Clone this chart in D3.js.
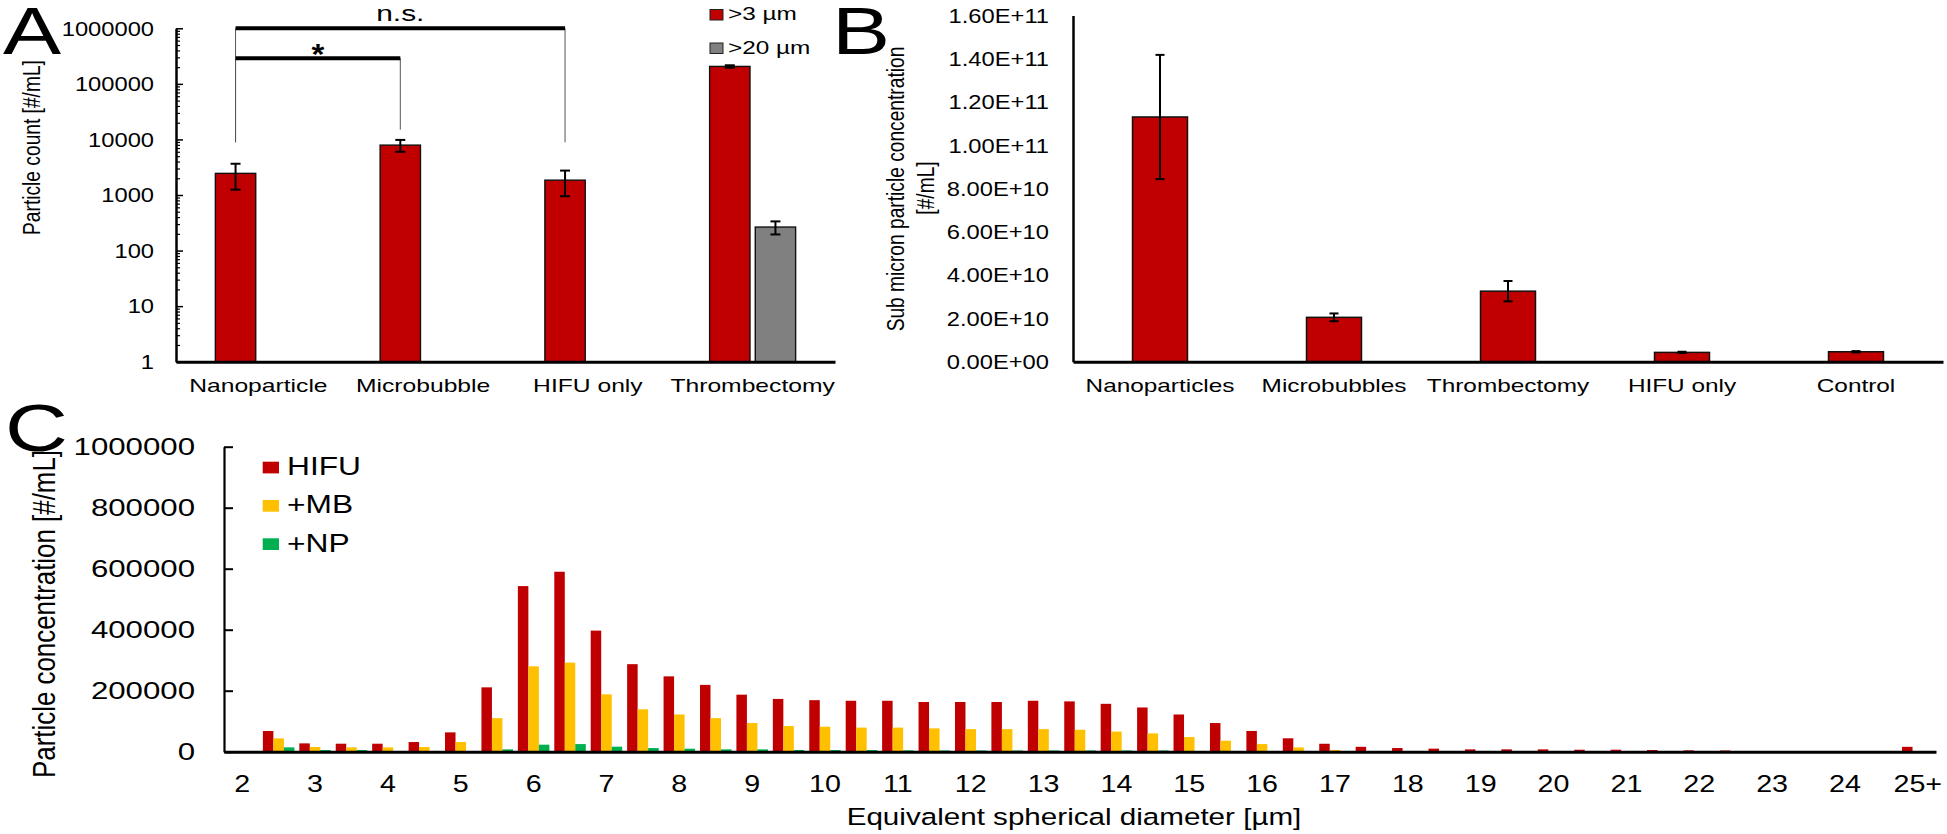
<!DOCTYPE html>
<html>
<head>
<meta charset="utf-8">
<script src="https://cdn.jsdelivr.net/npm/d3@7"></script>
<style>
  body { margin: 0; background: #fff; }
  svg { display: block; font-family: "Liberation Sans", Arial, sans-serif; }
</style>
</head>
<body>
<div id="chart"></div>
<script>
// ---- panel A data (log scale particle counts) ----
const aGroups = ["Nanoparticle", "Microbubble", "HIFU only", "Thrombectomy"];
const aOver3 = [2450, 7900, 1850, 206000];
const aOver3Err = [1200, 1900, 900, 10000];
const aOver20 = [null, null, null, 265];
const aOver20Err = [null, null, null, 70];
const aTicks = [1, 10, 100, 1000, 10000, 100000, 1000000];
const aBrackets = [
  { from: 0, to: 2, level: 1000000, ends: [8900, 8900], label: "n.s." },
  { from: 0, to: 1, level: 290000, ends: [8900, 15000], label: "*" }
];

// ---- panel B data ----
const bGroups = ["Nanoparticles", "Microbubbles", "Thrombectomy", "HIFU only", "Control"];
const bValues = [1.131e11, 2.05e10, 3.26e10, 4.3e9, 4.6e9];
const bErr = [2.87e10, 1.8e9, 4.7e9, 3e8, 3e8];
const bTicks = [0, 2e10, 4e10, 6e10, 8e10, 1e11, 1.2e11, 1.4e11, 1.6e11];

// ---- panel C data (size distribution, 0.5 um bins) ----
const cBins = ["2","2.5","3","3.5","4","4.5","5","5.5","6","6.5","7","7.5","8","8.5","9","9.5",
  "10","10.5","11","11.5","12","12.5","13","13.5","14","14.5","15","15.5","16","16.5","17","17.5",
  "18","18.5","19","19.5","20","20.5","21","21.5","22","22.5","23","23.5","24","24.5","25+"];
const cHIFU = [0, 67800, 27300, 26200, 26200, 31700, 63400, 211000, 543000, 590000, 397000, 287000,
  247000, 219000, 187000, 173000, 169000, 167000, 167000, 163000, 163000, 163000, 167000, 165000,
  157000, 145000, 122000, 94000, 68000, 44000, 26000, 16000, 12000, 10000, 7700, 7700, 7700, 6500,
  6500, 5500, 4400, 4000, 1500, 1500, 1500, 1500, 16000];
const cMB = [0, 43700, 15300, 14200, 14200, 15300, 31700, 110000, 280000, 292000, 188000, 139000,
  122000, 110000, 94000, 84000, 82000, 79000, 79000, 76500, 74000, 74000, 74000, 72000,
  66000, 60000, 48000, 36000, 25000, 14000, 5500, 1000, 0, 0, 0, 0, 0, 0,
  0, 0, 0, 0, 0, 0, 0, 0, 0];
const cNP = [0, 14200, 5500, 5500, 2000, 500, 500, 7700, 23000, 25000, 16400, 12000,
  9800, 7700, 7700, 5500, 5500, 5500, 4400, 4000, 4000, 4000, 4000, 4000,
  4000, 4000, 1500, 1000, 500, 0, 0, 0, 0, 0, 0, 0, 0, 0,
  0, 0, 0, 0, 0, 0, 0, 0, 0];
const cSeries = ["HIFU", "+MB", "+NP"];
const cTicks = [0, 200000, 400000, 600000, 800000, 1000000];

const red = "#C00000", grey = "#808080";
const cColors = ["#C00000", "#FFC000", "#00B050"];

const svg = d3.select("#chart").append("svg").attr("width", 1947).attr("height", 834);
svg.append("rect").attr("width", 1947).attr("height", 834).attr("fill", "#fff");

// text that is stretched sideways like the source figure
const stretchText = (g, str, x, y, size, sx, anchor, rot) =>
  g.append("text")
    .attr("transform", `translate(${x},${y}) scale(${sx},1)` + (rot ? ` rotate(${rot})` : ""))
    .attr("font-size", size)
    .attr("text-anchor", anchor || "start")
    .attr("fill", "#000")
    .text(str);

const styleTickText = (axisG, size, sx, x, y) => {
  axisG.attr("font-family", null).attr("font-size", size);
  axisG.selectAll(".tick text")
    .attr("fill", "#000")
    .attr("transform", `scale(${sx},1)`)
    .attr("x", x / sx);
  if (y !== undefined) axisG.selectAll(".tick text").attr("y", y).attr("dy", 0);
};

const errorBar = (g, x, yTop, yBot, cap) => {
  g.append("line").attr("x1", x).attr("x2", x).attr("y1", yTop).attr("y2", yBot);
  g.append("line").attr("x1", x - cap).attr("x2", x + cap).attr("y1", yTop).attr("y2", yTop);
  g.append("line").attr("x1", x - cap).attr("x2", x + cap).attr("y1", yBot).attr("y2", yBot);
};

// ================= Panel A =================
const xA = d3.scaleBand().domain(aGroups).range([176, 835]).paddingInner(0.478).paddingOuter(0.239);
const xAs = d3.scaleBand().domain(["over3", "over20"]).range([0, xA.bandwidth()]).paddingInner(0.116);
const yA = d3.scaleLog().domain([1, 1e6]).range([361.7, 28.3]);
const gA = svg.append("g");

aGroups.forEach((grp, i) => {
  [["over3", aOver3[i], aOver3Err[i], red], ["over20", aOver20[i], aOver20Err[i], grey]].forEach(([k, v, e, col]) => {
    if (v == null) return;
    const x = xA(grp) + xAs(k);
    gA.append("rect")
      .attr("x", x).attr("y", yA(v))
      .attr("width", xAs.bandwidth()).attr("height", yA(1) - yA(v))
      .attr("fill", col).attr("stroke", "#111").attr("stroke-width", 1.4);
    const eg = gA.append("g").attr("stroke", "#000").attr("stroke-width", 2);
    errorBar(eg, x + xAs.bandwidth() / 2, yA(v + e), yA(v - e), 5);
  });
});

const gAyMinor = gA.append("g").attr("transform", "translate(176,0)")
  .call(d3.axisLeft(yA).tickValues(yA.ticks().filter(t => !aTicks.includes(t))).tickFormat("").tickSize(-4));
gAyMinor.select(".domain").remove();
gAyMinor.selectAll(".tick line").attr("stroke", "#000").attr("stroke-width", 1.2);

const gAy = gA.append("g").attr("transform", "translate(176,0)")
  .call(d3.axisLeft(yA).tickValues(aTicks).tickFormat(d3.format("d")).tickSize(-7).tickSizeOuter(0));
gAy.select(".domain").attr("stroke", "#000").attr("stroke-width", 2.5);
gAy.selectAll(".tick line").attr("stroke", "#000").attr("stroke-width", 1.5);
styleTickText(gAy, 21, 1.13, -22);

const gAx = gA.append("g").attr("transform", "translate(0,361.7)")
  .call(d3.axisBottom(xA).tickSize(0).tickSizeOuter(0));
gAx.select(".domain").attr("stroke", "#000").attr("stroke-width", 3);
styleTickText(gAx, 18, 1.37, 0, 30);

stretchText(gA, "Particle count [#/mL]", 39.5, 147.5, 19.2, 1.2, "middle", -90);

// significance brackets
const barCenter = i => xA(aGroups[i]) + xAs("over3") + xAs.bandwidth() / 2;
aBrackets.forEach(b => {
  const x1 = barCenter(b.from), x2 = barCenter(b.to), yl = yA(b.level);
  gA.append("line").attr("x1", x1).attr("x2", x1).attr("y1", yl).attr("y2", yA(b.ends[0]))
    .attr("stroke", "#555").attr("stroke-width", 1);
  gA.append("line").attr("x1", x2).attr("x2", x2).attr("y1", yl).attr("y2", yA(b.ends[1]))
    .attr("stroke", "#555").attr("stroke-width", 1);
  gA.append("line").attr("x1", x1).attr("x2", x2).attr("y1", yl).attr("y2", yl)
    .attr("stroke", "#000").attr("stroke-width", 4);
  if (b.label === "*") {
    stretchText(gA, b.label, (x1 + x2) / 2, yl + 6, 30, 1.1, "middle").attr("font-weight", "bold");
  } else {
    stretchText(gA, b.label, (x1 + x2) / 2, yl - 7, 22.5, 1.33, "middle");
  }
});

// legend A
[[">3 µm", red, 9.5, 20], [">20 µm", grey, 43, 54]].forEach(([t, col, ys, yb]) => {
  gA.append("rect").attr("x", 710).attr("y", ys).attr("width", 13).attr("height", 10.5)
    .attr("fill", col).attr("stroke", "#222").attr("stroke-width", 1);
  stretchText(gA, t, 728, yb, 18.6, 1.31, "start");
});

// ================= Panel B =================
const xB = d3.scaleBand().domain(bGroups).range([1073, 1943]).paddingInner(0.684).paddingOuter(0.342);
const yB = d3.scaleLinear().domain([0, 1.6e11]).range([361.7, 15.5]);
const gB = svg.append("g");

const sciFormat = d => {
  const [m, e] = d.toExponential(2).split("e");
  return m + "E" + e[0] + e.slice(1).padStart(2, "0");
};

bGroups.forEach((grp, i) => {
  const x = xB(grp), v = bValues[i], e = bErr[i];
  gB.append("rect")
    .attr("x", x).attr("y", yB(v))
    .attr("width", xB.bandwidth()).attr("height", yB(0) - yB(v))
    .attr("fill", red).attr("stroke", "#111").attr("stroke-width", 1.5);
  const eg = gB.append("g").attr("stroke", "#000").attr("stroke-width", 2);
  errorBar(eg, x + xB.bandwidth() / 2, yB(v + e), yB(v - e), 4.5);
});

const gBy = gB.append("g").attr("transform", "translate(1073,0)")
  .call(d3.axisLeft(yB).tickValues(bTicks).tickFormat(sciFormat).tickSize(0).tickSizeOuter(0));
gBy.select(".domain").attr("stroke", "#000").attr("stroke-width", 2.5);
styleTickText(gBy, 21, 1.13, -24);

const gBx = gB.append("g").attr("transform", "translate(0,361.7)")
  .call(d3.axisBottom(xB).tickSize(0).tickSizeOuter(0));
gBx.select(".domain").attr("stroke", "#000").attr("stroke-width", 3);
styleTickText(gBx, 18.6, 1.31, 0, 30);

stretchText(gB, "Sub micron particle concentration", 903.5, 189, 19.2, 1.2, "middle", -90);
stretchText(gB, "[#/mL]", 934, 188, 19.2, 1.2, "middle", -90);

// ================= Panel C =================
const xC = d3.scaleBand().domain(cBins).range([224, 1936]).paddingInner(0.135).paddingOuter(0.0675);
const xCs = d3.scaleBand().domain(cSeries).range([0, xC.bandwidth()]);
const yC = d3.scaleLinear().domain([0, 1e6]).range([751.7, 446.7]);
const gC = svg.append("g");
const cData = [cHIFU, cMB, cNP];

cSeries.forEach((s, si) => {
  gC.append("g").attr("fill", cColors[si])
    .selectAll("rect")
    .data(cBins.map((b, i) => ({ bin: b, v: cData[si][i] })).filter(d => d.v > 0))
    .join("rect")
      .attr("x", d => xC(d.bin) + xCs(s))
      .attr("y", d => yC(d.v))
      .attr("width", xCs.bandwidth())
      .attr("height", d => yC(0) - yC(d.v));
});

const gCy = gC.append("g").attr("transform", "translate(224,0)")
  .call(d3.axisLeft(yC).tickValues(cTicks).tickFormat(d3.format("d")).tickSize(-9).tickSizeOuter(0));
gCy.select(".domain").attr("stroke", "#000").attr("stroke-width", 2.2);
gCy.selectAll(".tick line").attr("stroke", "#000").attr("stroke-width", 2);
styleTickText(gCy, 24, 1.3, -29);

const gCx = gC.append("g").attr("transform", "translate(0,751.7)")
  .call(d3.axisBottom(xC).tickValues(cBins.filter(b => !b.includes("."))).tickSize(0).tickSizeOuter(0));
gCx.select(".domain").attr("stroke", "#000").attr("stroke-width", 3);
styleTickText(gCx, 23.5, 1.22, 0, 40);

stretchText(gC, "Particle concentration [#/mL]", 54.5, 614, 25.9, 1.19, "middle", -90);
stretchText(gC, "Equivalent spherical diameter [µm]", 1074, 825, 23.5, 1.26, "middle");

// legend C
cSeries.forEach((s, si) => {
  gC.append("rect").attr("x", 262.7).attr("y", 461.7 + si * 38.3)
    .attr("width", 16.3).attr("height", 11.7).attr("fill", cColors[si]);
  stretchText(gC, s, 287, 475 + si * 38.3, 25.6, 1.24, "start");
});

// ================= Panel letters =================
[["A", 3, 54], ["B", 832, 54], ["C", 5, 451]].forEach(([t, x, y]) => {
  stretchText(svg, t, x, y, 67, 1.3, "start");
});
</script>
</body>
</html>
